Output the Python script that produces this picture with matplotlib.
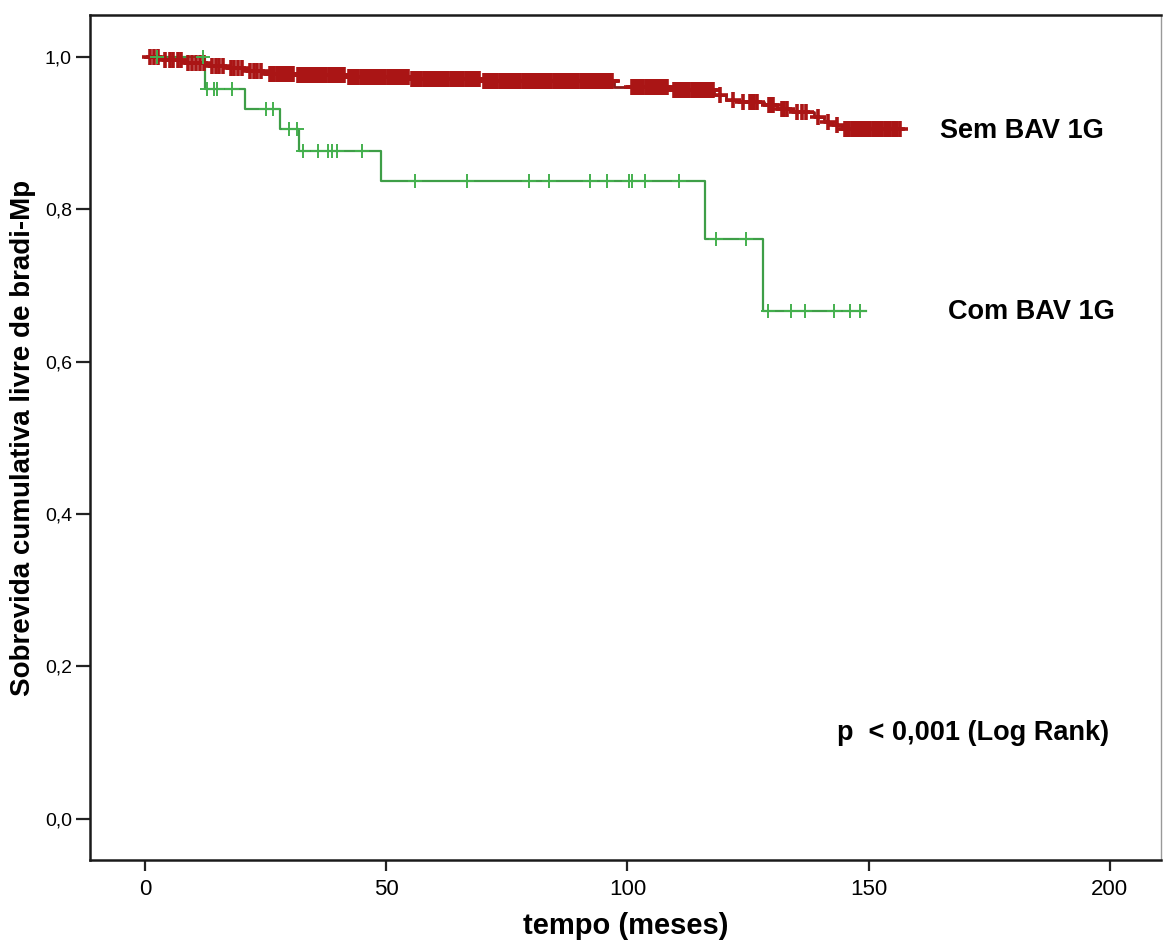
import numpy as np
import matplotlib
matplotlib.use("Agg")
import matplotlib.pyplot as plt
from matplotlib import font_manager as fm

# ---------------- data ----------------
# Sem BAV 1G (red): event step times (months) and survival after each step
sem_times = [0, 3.5, 8, 13, 17, 21, 25, 31, 42, 55, 70, 97.3, 109, 118, 120.5, 123,
             128.3, 131, 134.1, 138.6, 140.7, 142.5, 144.5]
sem_surv = [1.000, 0.996, 0.992, 0.988, 0.985, 0.981, 0.978, 0.976, 0.974, 0.971, 0.968,
            0.960, 0.956, 0.950, 0.944, 0.941, 0.937, 0.932, 0.928, 0.921, 0.915, 0.911, 0.905]
sem_end = 157.0
sem_censored = [
    1.0, 1.9, 2.6, 4.2, 5.1, 5.9, 6.8, 7.5, 9.0, 9.8, 10.6, 11.5, 12.2, 13.9, 14.7,
    15.4, 16.2, 17.8, 18.5, 19.3, 20.1, 21.8, 22.6, 23.3, 24.1, 25.9, 26.3, 26.7, 27.4,
    27.8, 28.2, 28.6, 29.0, 29.4, 29.9, 30.2, 30.6, 31.8, 32.1, 32.5, 32.9, 33.3, 33.6,
    34.0, 34.4, 34.9, 35.3, 35.7, 36.0, 36.4, 36.8, 37.2, 37.6, 38.1, 38.5,
    38.9, 39.2, 39.6, 40.0, 40.4, 40.9, 41.3, 42.3, 42.7, 43.1, 43.5, 43.8, 44.2, 44.7,
    45.1, 45.5, 45.9, 46.2, 46.6, 47.0, 47.4, 47.9, 48.3, 48.6, 49.0, 49.4,
    49.8, 50.3, 50.7, 51.1, 51.5, 51.8, 52.2, 52.6, 53.0, 53.5, 53.9, 54.2, 54.6, 55.3,
    55.8, 56.1, 56.5, 56.9, 57.3, 57.8, 58.2, 58.6, 59.0, 59.3, 59.7, 60.1,
    60.5, 61.0, 61.4, 61.7, 62.1, 62.5, 62.9, 63.4, 63.8, 64.2, 64.6, 64.9, 65.3,
    65.6, 66.0, 66.5, 66.9, 67.3, 67.7, 68.1, 68.5, 68.9, 69.3, 70.3, 70.6,
    71.0, 71.4, 71.8, 72.2, 72.6, 73.0, 73.5, 73.9, 74.2, 74.6, 75.0, 75.4, 75.9,
    76.3, 76.6, 77.0, 77.4, 77.8, 78.3, 78.7, 79.1, 79.5, 79.8, 80.2, 80.6, 81.0,
    81.5, 81.9, 82.3, 82.7, 83.0, 83.4, 83.8, 84.2, 84.7, 85.1, 85.4, 85.8, 86.2,
    86.6, 87.1, 87.5, 87.9, 88.3, 88.6, 89.0, 89.4, 89.8, 90.3, 90.7, 91.1, 91.5,
    91.8, 92.2, 92.6, 93.0, 93.5, 93.9, 94.2, 94.6, 95.0, 95.4, 95.8, 96.1, 96.5, 96.8,
    100.9, 101.4, 101.8, 102.2, 102.6, 103.0, 103.3, 103.8, 104.2, 104.6, 105.0,
    105.5, 105.9, 106.2, 106.5, 106.9, 107.3, 107.7, 108.1,
    109.6, 110.0, 110.5, 110.9, 111.3, 111.7, 112.1, 112.4, 112.8, 113.3, 113.7,
    114.1, 114.5, 114.9, 115.3, 115.7, 116.1, 116.5, 116.9, 117.3, 117.7,
    119.2, 121.9, 124.0, 125.4, 125.8, 126.2, 126.8, 129.4, 129.8, 130.2, 132.0,
    132.5, 133.0, 135.1, 136.2, 137.1, 139.4, 141.6, 143.5, 145.1, 145.6, 146.0,
    146.5, 146.9, 147.4, 147.8, 148.2, 148.6, 149.1, 149.5, 149.9, 150.3, 150.8,
    151.2, 151.6, 152.0, 152.4, 152.8, 153.3, 153.7, 154.1, 154.5, 155.0, 155.4,
    155.9, 156.5]

# Com BAV 1G (green)
com_times = [0, 12.4, 20.7, 28.0, 32.0, 49.0, 116.0, 128.1]
com_surv = [1.000, 0.958, 0.932, 0.905, 0.876, 0.837, 0.761, 0.666]
com_end = 149.4
com_censored = [2.5, 12.0, 12.8, 14.3, 14.9, 18.0, 25.0, 26.5, 29.9, 31.5, 32.8, 35.8,
                38.0, 38.8, 39.7, 45.0, 56.0, 66.7, 79.7, 83.7, 92.3, 95.8, 100.3,
                101.0, 103.6, 110.6, 118.3, 124.5, 129.1, 134.0, 136.9, 142.8, 146.1,
                148.2]

group_labels = ["Sem BAV 1G", "Com BAV 1G"]
x_ticks = [0, 50, 100, 150, 200]
y_ticks = [0.0, 0.2, 0.4, 0.6, 0.8, 1.0]
y_ticklabels = ["0,0", "0,2", "0,4", "0,6", "0,8", "1,0"]
x_label = "tempo (meses)"
y_label = "Sobrevida cumulativa livre de bradi-Mp"
p_text = "p  < 0,001 (Log Rank)"

# ---------------- fonts ----------------
names = {f.name for f in fm.fontManager.ttflist}
arial = "Liberation Sans" if "Liberation Sans" in names else "DejaVu Sans"

# ---------------- figure ----------------
fig = plt.figure(figsize=(11.63, 9.42), dpi=100)
ax = fig.add_axes([90 / 1163, 82 / 942, (1161 - 90) / 1163, (860 - 15) / 942])


def draw_km(times, surv, end, censored, line_color, mark_color, mew, ms, lw):
    t = list(times) + [end]
    s = list(surv) + [surv[-1]]
    ax.step(t, s, where="post", color=line_color, lw=lw, zorder=2)
    c = np.asarray(censored)
    idx = np.searchsorted(np.asarray(times), c, side="right") - 1
    cs = np.asarray(surv)[idx]
    ax.plot(c, cs, linestyle="none", marker="+", color=mark_color,
            markersize=ms, markeredgewidth=mew, zorder=3)


draw_km(sem_times, sem_surv, sem_end, sem_censored, "#8E1A1A", "#AA1515", 2.6, 12, 2.0)
draw_km(com_times, com_surv, com_end, com_censored, "#3E9E47", "#44B04E", 1.4, 10, 1.6)

ax.set_xlim(-11.4, 210.6)
ax.set_ylim(-0.054, 1.055)
ax.set_xticks(x_ticks)
ax.set_xticklabels([str(v) for v in x_ticks], fontfamily=arial, fontsize=16)
ax.set_yticks(y_ticks)
ax.set_yticklabels(y_ticklabels, fontfamily=arial, fontsize=14)
ax.tick_params(axis="x", direction="out", length=8, width=1.6, color="#222222", pad=6)
ax.tick_params(axis="y", direction="out", length=10, width=1.6, color="#222222", pad=3)

ax.set_xlabel(x_label, fontfamily=arial, fontweight="bold", fontsize=21, labelpad=8)
ax.set_ylabel(y_label, fontfamily=arial, fontweight="bold", fontsize=20, labelpad=6)

for side in ("left", "bottom", "top"):
    ax.spines[side].set_linewidth(1.8)
    ax.spines[side].set_color("#1a1a1a")
ax.spines["right"].set_linewidth(1.0)
ax.spines["right"].set_color("#999999")

ax.text(1022, 131, group_labels[0], transform=None, ha="center", va="center",
        fontfamily=arial, fontweight="bold", fontsize=19.5)
ax.text(1031, 312, group_labels[1], transform=None, ha="center", va="center",
        fontfamily=arial, fontweight="bold", fontsize=19.5)
ax.text(973, 733, p_text, transform=None, ha="center", va="center",
        fontfamily=arial, fontweight="bold", fontsize=19.5)

# place texts in data coordinates derived from pixel positions
for t in ax.texts:
    px, py = t.get_position()
    xd, yd = ax.transData.inverted().transform((px, 942 - py))
    t.set_transform(ax.transData)
    t.set_position((xd, yd))

fig.savefig("out.png", dpi=100)
